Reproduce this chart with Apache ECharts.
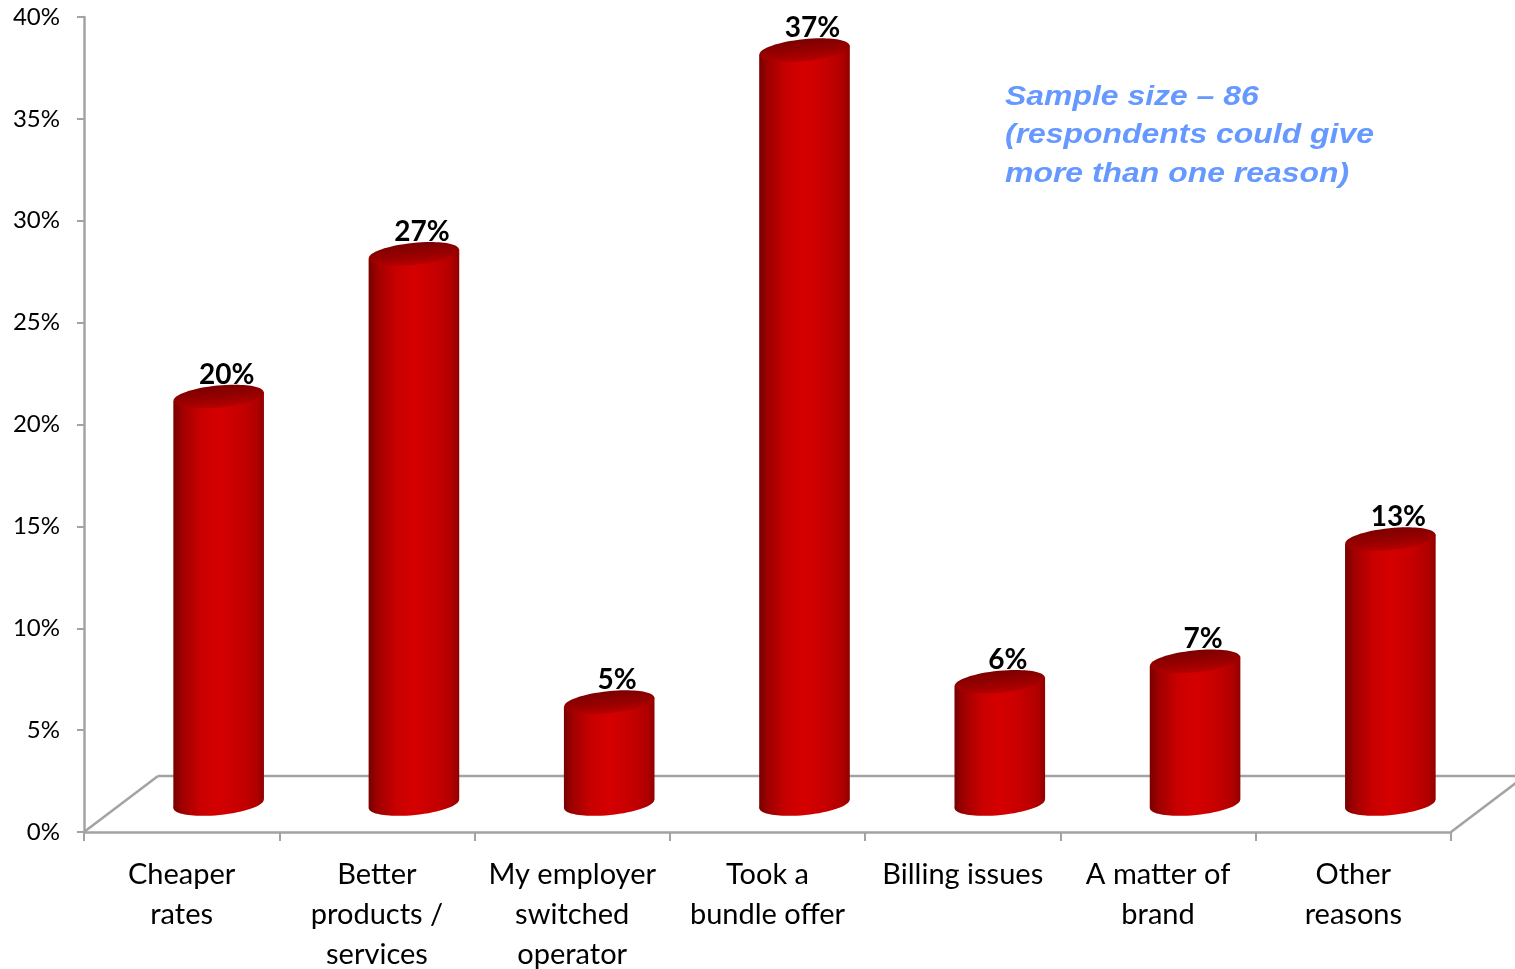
<!DOCTYPE html>
<html>
<head>
<meta charset="utf-8">
<title>Reasons for switching operator</title>
<script src="https://cdn.jsdelivr.net/npm/echarts@6/dist/echarts.min.js"></script>
<style>
  html, body { margin: 0; padding: 0; background: #ffffff; overflow: hidden; }
  #chart { width: 1515px; height: 969px; }
</style>
</head>
<body>
<div id="chart"></div>
<script>
// Reasons given for switching (share of respondents, %)
const categories = [
  'Cheaper\nrates',
  'Better\nproducts /\nservices',
  'My employer\nswitched\noperator',
  'Took a\nbundle offer',
  'Billing issues',
  'A matter of\nbrand',
  'Other\nreasons'
];
const shares = [20, 27, 5, 37, 6, 7, 13];
const yTickLabels = ['0%', '5%', '10%', '15%', '20%', '25%', '30%', '35%', '40%'];
const noteLines = [
  'Sample size \u2013 86',
  '(respondents could give',
  'more than one reason)'
];

// Floor depth of the pseudo-3D plot (screen offset of the back edge)
const DEPTH_X = 74;
const DEPTH_Y = -56;
const AXIS_GREY = '#a3a3a3';

const chart = echarts.init(document.getElementById('chart'), null, { renderer: 'canvas' });

const bodyGradient = () => new echarts.graphic.LinearGradient(0, 0, 1, 0, [
  { offset: 0.00, color: '#780000' },
  { offset: 0.10, color: '#a00000' },
  { offset: 0.30, color: '#c80000' },
  { offset: 0.50, color: '#d50000' },
  { offset: 0.75, color: '#c50000' },
  { offset: 0.92, color: '#b00000' },
  { offset: 1.00, color: '#900000' }
]);
const capGradient = () => new echarts.graphic.LinearGradient(0, 0, 0, 1, [
  { offset: 0.0, color: '#7c0000' },
  { offset: 0.6, color: '#9a0000' },
  { offset: 1.0, color: '#b80000' }
]);

// Floor outline: back edge and the two side edges
function renderFloor(params, api) {
  const cs = params.coordSys;
  const x0 = cs.x, x1 = cs.x + cs.width, y0 = cs.y + cs.height;
  const line = (a, b, c, d) => ({
    type: 'line',
    shape: { x1: a, y1: b, x2: c, y2: d },
    style: { stroke: AXIS_GREY, lineWidth: 2.5 }
  });
  return {
    type: 'group',
    children: [
      line(x0 + DEPTH_X, y0 + DEPTH_Y, x1 + DEPTH_X, y0 + DEPTH_Y),
      line(x0, y0, x0 + DEPTH_X, y0 + DEPTH_Y),
      line(x1, y0, x1 + DEPTH_X, y0 + DEPTH_Y)
    ]
  };
}

// One cylinder per category, standing mid-depth on the floor
function renderCylinder(params, api) {
  const idx = api.value(0);
  const val = api.value(1);
  const top = api.coord([idx, val]);
  const base = api.coord([idx, 0]);
  const band = api.size([1, 0])[0];
  const r = band * 0.232;
  const ry = 11;
  const tilt = 0.1;
  const lift = r * Math.sin(tilt);
  const cx = top[0] + DEPTH_X / 2;
  const yTop = top[1] + DEPTH_Y / 2;
  const yBot = base[1] + DEPTH_Y / 2;
  return {
    type: 'group',
    children: [
      {
        type: 'ellipse',
        x: cx, y: yBot, rotation: tilt,
        shape: { cx: 0, cy: 0, rx: r, ry: ry },
        style: { fill: bodyGradient() }
      },
      {
        type: 'polygon',
        shape: { points: [
          [cx - r, yBot + lift], [cx - r, yTop + lift],
          [cx + r, yTop - lift], [cx + r, yBot - lift]
        ] },
        style: { fill: bodyGradient() }
      },
      {
        type: 'ellipse',
        x: cx, y: yTop, rotation: tilt,
        shape: { cx: 0, cy: 0, rx: r, ry: ry },
        style: { fill: capGradient() }
      },
      {
        type: 'text',
        x: cx + 8, y: yTop - 22,
        style: {
          text: val + '%',
          align: 'center',
          verticalAlign: 'middle',
          font: 'bold 28px Lato',
          fill: '#000000'
        }
      }
    ]
  };
}

const option = {
  backgroundColor: '#ffffff',
  animation: false,
  grid: {
    left: 84, right: 64, top: 17, height: 815,
    containLabel: false,
    outerBoundsMode: 'none'
  },
  xAxis: {
    type: 'category',
    data: categories,
    boundaryGap: true,
    axisLine: { show: true, lineStyle: { color: AXIS_GREY, width: 2.5 } },
    axisTick: { show: true, length: 9, lineStyle: { color: AXIS_GREY, width: 2 } },
    axisLabel: {
      interval: 0,
      margin: 23,
      color: '#000000',
      fontFamily: 'Lato',
      fontSize: 29,
      lineHeight: 40
    },
    splitLine: { show: false }
  },
  yAxis: {
    type: 'value',
    min: 0,
    max: 40,
    interval: 5,
    axisLine: { show: true, lineStyle: { color: AXIS_GREY, width: 2.5 } },
    axisTick: { show: true, length: 7, lineStyle: { color: AXIS_GREY, width: 2 } },
    axisLabel: {
      margin: 24,
      color: '#000000',
      fontFamily: 'Lato',
      fontSize: 24,
      formatter: (v) => yTickLabels[Math.round(v / 5)]
    },
    splitLine: { show: false }
  },
  graphic: [
    {
      type: 'text',
      x: 1005,
      y: 78,
      scaleX: 1.14,
      style: {
        text: noteLines.join('\n'),
        font: 'italic bold 28px "Liberation Sans"',
        fill: '#6699ff',
        lineHeight: 38.5
      }
    }
  ],
  series: [
    {
      name: 'floor',
      type: 'custom',
      data: [0],
      renderItem: renderFloor,
      silent: true,
      z: 1
    },
    {
      name: 'Share of respondents',
      type: 'custom',
      data: shares.map((v, i) => [i, v]),
      encode: { x: 0, y: 1 },
      renderItem: renderCylinder,
      z: 2
    }
  ]
};

chart.setOption(option);
</script>
</body>
</html>
